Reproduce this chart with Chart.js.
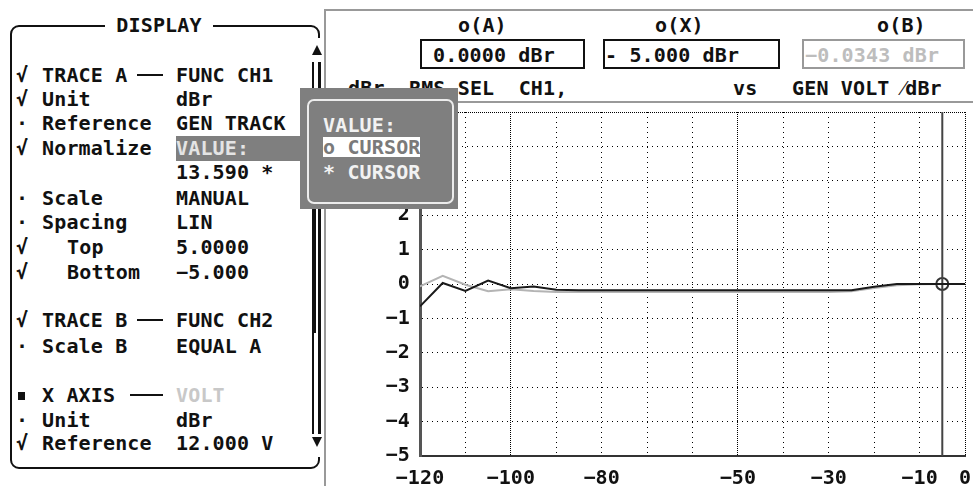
<!DOCTYPE html>
<html>
<head>
<meta charset="utf-8">
<script src="https://cdn.jsdelivr.net/npm/chart.js@4.4.0/dist/chart.umd.min.js"></script>
<style>
  body { margin: 0; width: 973px; height: 486px; background: #fff; overflow: hidden; position: relative;
         font: bold 20px "DejaVu Sans Mono", monospace; letter-spacing: 0.15px; color: #111; }
  .t { position: absolute; white-space: pre; line-height: 24px; height: 24px; }
  .ln { position: absolute; background: #111; }
  #panel { position: absolute; left: 10px; top: 25px; width: 310px; height: 444px; box-sizing: border-box;
           border: 2px solid #111; border-radius: 9px; }
  #plot { position: absolute; left: 325px; top: 104px; width: 648px; height: 382px; }
  .box { position: absolute; top: 39px; height: 30px; box-sizing: border-box; border: 2px solid #111; }
</style>
</head>
<body>

<!-- left menu panel -->
<div id="panel"></div>
<div class="ln" style="left:316px;top:38px;width:5px;height:419px;background:#fff"></div>
<div class="t" style="left:105px;top:13px;width:108px;text-align:center;background:#fff">DISPLAY</div>

<div style="position:absolute;left:312px;top:45px;width:0;height:0;border-left:5px solid transparent;border-right:5px solid transparent;border-bottom:10px solid #111"></div>
<div style="position:absolute;left:312px;top:437px;width:0;height:0;border-left:5px solid transparent;border-right:5px solid transparent;border-top:10px solid #111"></div>
<div class="ln" style="left:312px;top:62px;width:2px;height:372px"></div>
<div class="ln" style="left:318px;top:62px;width:3px;height:372px"></div>
<div class="ln" style="left:312px;top:209px;width:4px;height:124px"></div>

<div class="t" style="left:16px;top:63px">√</div><div class="t" style="left:42px;top:63px">TRACE A</div>
<div class="ln" style="left:137px;top:74px;width:26px;height:2px"></div>
<div class="t" style="left:176px;top:63px">FUNC CH1</div>
<div class="t" style="left:16px;top:87px">√</div><div class="t" style="left:42px;top:87px">Unit</div><div class="t" style="left:176px;top:87px">dBr</div>
<div class="t" style="left:16px;top:111px">·</div><div class="t" style="left:42px;top:111px">Reference</div><div class="t" style="left:176px;top:111px">GEN TRACK</div>
<div class="t" style="left:16px;top:136px">√</div><div class="t" style="left:42px;top:136px">Normalize</div>
<div class="ln" style="left:176px;top:136px;width:124px;height:25px;background:#7f7f7f"></div>
<div class="t" style="left:176px;top:136px;color:#e4e4e4">VALUE:</div>
<div class="t" style="left:176px;top:160px">13.590 *</div>
<div class="t" style="left:16px;top:186px">·</div><div class="t" style="left:42px;top:186px">Scale</div><div class="t" style="left:176px;top:186px">MANUAL</div>
<div class="t" style="left:16px;top:210px">·</div><div class="t" style="left:42px;top:210px">Spacing</div><div class="t" style="left:176px;top:210px">LIN</div>
<div class="t" style="left:16px;top:235px">√</div><div class="t" style="left:67px;top:235px">Top</div><div class="t" style="left:176px;top:235px">5.0000</div>
<div class="t" style="left:16px;top:260px">√</div><div class="t" style="left:67px;top:260px">Bottom</div><div class="t" style="left:176px;top:260px">−5.000</div>
<div class="t" style="left:16px;top:308px">√</div><div class="t" style="left:42px;top:308px">TRACE B</div>
<div class="ln" style="left:137px;top:319px;width:26px;height:2px"></div>
<div class="t" style="left:176px;top:308px">FUNC CH2</div>
<div class="t" style="left:16px;top:334px">·</div><div class="t" style="left:42px;top:334px">Scale B</div><div class="t" style="left:176px;top:334px">EQUAL A</div>
<div class="ln" style="left:18px;top:392px;width:7px;height:8px"></div><div class="t" style="left:42px;top:383px">X AXIS</div>
<div class="ln" style="left:130px;top:394px;width:33px;height:2px"></div>
<div class="t" style="left:176px;top:383px;color:#c8c8c8">VOLT</div>
<div class="t" style="left:16px;top:408px">·</div><div class="t" style="left:42px;top:408px">Unit</div><div class="t" style="left:176px;top:408px">dBr</div>
<div class="t" style="left:16px;top:431px">√</div><div class="t" style="left:42px;top:431px">Reference</div><div class="t" style="left:176px;top:431px">12.000 V</div>

<!-- right panel header -->
<div class="ln" style="left:324px;top:9px;width:2px;height:477px;background:#999"></div>
<div class="ln" style="left:324px;top:9px;width:649px;height:2px;background:#999"></div>
<div class="ln" style="left:325px;top:101px;width:648px;height:2px;background:#999"></div>

<div class="t" style="left:458px;top:13px">o(A)</div>
<div class="box" style="left:420px;width:165px"></div>
<div class="t" style="left:433px;top:43px">0.0000 dBr</div>
<div class="t" style="left:655px;top:13px">o(X)</div>
<div class="box" style="left:603px;width:177px"></div>
<div class="t" style="left:605px;top:43px">- 5.000 dBr</div>
<div class="t" style="left:877px;top:13px">o(B)</div>
<div class="box" style="left:802px;width:163px;border-color:#999"></div>
<div class="t" style="left:805px;top:43px;color:#bdbdbd">−0.0343 dBr</div>
<div class="t" style="left:348px;top:76px">dBr  RMS SEL  CH1,</div>
<div class="t" style="left:733px;top:76px">vs</div>
<div class="t" style="left:792px;top:76px">GEN VOLT ⁄dBr</div>

<div id="plot"><canvas id="traceChart"></canvas></div>

<!-- value popup -->
<div class="ln" style="left:300px;top:88px;width:158px;height:121px;background:#7f7f7f"></div>
<div style="position:absolute;left:307px;top:99px;width:147px;height:105px;box-sizing:border-box;border:2px solid #ececec;border-radius:7px"></div>
<div class="t" style="left:323px;top:113px;color:#f2f2f2">VALUE:</div>
<div class="ln" style="left:323px;top:137px;width:97px;height:20px;background:#fff"></div>
<div class="t" style="left:323px;top:135px;color:#7a7a7a">o CURSOR</div>
<div class="t" style="left:323px;top:160px;color:#f2f2f2">* CURSOR</div>

<script>
const sweepLevels = [-120, -115, -110, -105, -100, -95, -90, -85, -80, -75, -70, -65, -60,
                     -55, -50, -45, -40, -35, -30, -25, -20, -15, -10, -5, 0];
const traceA = [-0.65, 0.03, -0.2, 0.1, -0.12, -0.07, -0.17, -0.18, -0.18, -0.18, -0.18, -0.18, -0.18,
                -0.18, -0.18, -0.18, -0.18, -0.18, -0.18, -0.18, -0.08, 0.0, 0.0, 0.0, 0.0];
const traceB = [-0.07, 0.24, -0.02, -0.21, -0.15, -0.2, -0.23, -0.23, -0.23, -0.23, -0.23, -0.23, -0.23,
                -0.23, -0.23, -0.23, -0.23, -0.23, -0.23, -0.21, -0.12, -0.04, -0.01, 0.0, 0.0];
const xTickLabels = [-120, -100, -80, -50, -30, -10, 0];
const denseGridX = [-100, -50, 0];
const denseGridY = [5];
const yRange = [-5, 5];
const cursorX = -5;
const cursorY = 0;

const fmt = v => v < 0 ? '\u2212' + Math.abs(v) : String(v);
const tickFont = { family: 'DejaVu Sans Mono', weight: 'bold', size: 20 };

const data = {
    datasets: [{
        label: 'Trace A',
        data: sweepLevels.map((x, i) => ({ x: x, y: traceA[i] })),
        borderColor: '#1a1a1a',
        borderWidth: 2,
        pointRadius: 0
    }, {
        label: 'Trace B',
        data: sweepLevels.map((x, i) => ({ x: x, y: traceB[i] })),
        borderColor: '#b4b4b4',
        borderWidth: 2,
        pointRadius: 0
    }, {
        label: 'Cursor',
        data: [{ x: cursorX, y: yRange[0] }, { x: cursorX, y: yRange[1] }],
        borderColor: '#444',
        borderWidth: 2,
        pointRadius: 0
    }, {
        label: 'Cursor mark',
        data: [{ x: cursorX, y: cursorY }],
        showLine: false,
        pointStyle: 'circle',
        pointRadius: 6,
        pointBorderWidth: 2,
        pointBorderColor: '#333',
        pointBackgroundColor: 'rgba(255,255,255,0)'
    }]
};

const config = {
    type: 'line',
    data: data,
    options: {
        responsive: true,
        maintainAspectRatio: false,
        animation: false,
        layout: { padding: { top: 4, right: 6, left: 0, bottom: 0 } },
        scales: {
            x: {
                type: 'linear',
                min: sweepLevels[0],
                max: sweepLevels[sweepLevels.length - 1],
                afterFit: function(scale) {
                    scale.height = 30;
                    scale.paddingLeft = 0;
                    scale.paddingRight = 0;
                },
                grid: { color: '#000', lineWidth: 1, drawTicks: false },
                border: {
                    color: '#333', width: 2,
                    dash: c => c.tick && denseGridX.includes(c.tick.value) ? [1, 1] : [1, 4]
                },
                ticks: {
                    stepSize: 10,
                    autoSkip: false,
                    maxRotation: 0,
                    padding: 11,
                    color: '#111',
                    font: tickFont,
                    callback: function(value) {
                        return xTickLabels.includes(value) ? fmt(value) : '';
                    }
                }
            },
            y: {
                min: yRange[0],
                max: yRange[1],
                afterFit: function(scale) {
                    scale.width = 95;
                    scale.paddingTop = 0;
                    scale.paddingBottom = 0;
                },
                grid: { color: '#000', lineWidth: 1, drawTicks: false },
                border: {
                    color: '#555', width: 3,
                    dash: c => c.tick && denseGridY.includes(c.tick.value) ? [1, 1] : [1, 4]
                },
                ticks: {
                    stepSize: 1,
                    padding: 10,
                    color: '#111',
                    font: tickFont,
                    callback: function(value) { return fmt(value); }
                }
            }
        },
        plugins: {
            legend: { display: false },
            tooltip: { enabled: false }
        }
    }
};

const ctx = document.getElementById('traceChart').getContext('2d');
new Chart(ctx, config);
</script>
</body>
</html>
